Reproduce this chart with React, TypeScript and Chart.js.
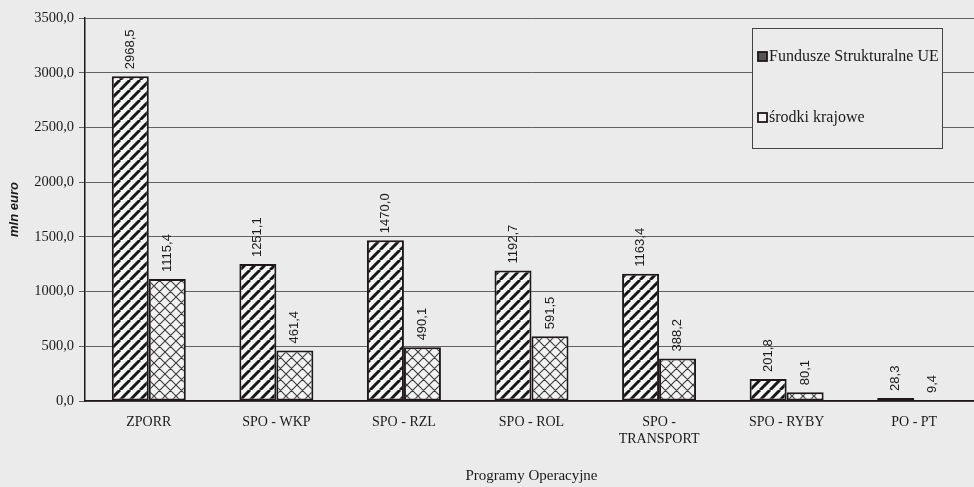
import React, { useEffect, useRef } from "react";
import { Chart, registerables } from "chart.js";

Chart.register(...registerables);

const categories: (string | string[])[] = [
  "ZPORR",
  "SPO - WKP",
  "SPO - RZL",
  "SPO - ROL",
  ["SPO -", "TRANSPORT"],
  "SPO - RYBY",
  "PO - PT",
];
const fundusze = [2968.5, 1251.1, 1470.0, 1192.7, 1163.4, 201.8, 28.3];
const krajowe = [1115.4, 461.4, 490.1, 591.5, 388.2, 80.1, 9.4];
const seriesNames = ["Fundusze Strukturalne UE", "środki krajowe"];
const yTitle = "mln euro";
const xTitle = "Programy Operacyjne";

const BG = "#ebebec";
const INK = "#1e1818";

const fmt = (v: number) => v.toFixed(1).replace(".", ",");

function hatchPattern(): CanvasPattern | string {
  const s = 10;
  const c = document.createElement("canvas");
  c.width = s;
  c.height = s;
  const x = c.getContext("2d");
  if (!x) return "#888";
  x.fillStyle = "#f3f3f3";
  x.fillRect(0, 0, s, s);
  x.strokeStyle = "#161616";
  x.lineWidth = 3;
  x.beginPath();
  for (const k of [-s, 0, s]) {
    x.moveTo(k, s);
    x.lineTo(k + s, 0);
  }
  x.stroke();
  const p = x.createPattern(c, "repeat");
  return p || "#888";
}

function crossPattern(): CanvasPattern | string {
  const s = 11;
  const c = document.createElement("canvas");
  c.width = s;
  c.height = s;
  const x = c.getContext("2d");
  if (!x) return "#ccc";
  x.fillStyle = "#f3f3f3";
  x.fillRect(0, 0, s, s);
  x.strokeStyle = "#3a3a3a";
  x.lineWidth = 1.1;
  x.beginPath();
  for (const k of [-s, 0, s]) {
    x.moveTo(k, s);
    x.lineTo(k + s, 0);
    x.moveTo(k, 0);
    x.lineTo(k + s, s);
  }
  x.stroke();
  const p = x.createPattern(c, "repeat");
  return p || "#ccc";
}

export default function App() {
  const ref = useRef<HTMLCanvasElement | null>(null);

  useEffect(() => {
    if (!ref.current) return;
    const p1 = hatchPattern();
    const p2 = crossPattern();

    const bgPlugin = {
      id: "bg",
      beforeDraw(chart: any) {
        const ctx = chart.ctx;
        ctx.save();
        ctx.fillStyle = BG;
        ctx.fillRect(0, 0, chart.width, chart.height);
        ctx.restore();
      },
    };

    const valuePlugin = {
      id: "values",
      afterDatasetsDraw(chart: any) {
        const ctx = chart.ctx;
        ctx.save();
        ctx.font = '13px "Liberation Sans", Arial, sans-serif';
        ctx.fillStyle = "#1a1a1a";
        ctx.textAlign = "left";
        ctx.textBaseline = "middle";
        chart.data.datasets.forEach((ds: any, i: number) => {
          const meta = chart.getDatasetMeta(i);
          meta.data.forEach((bar: any, j: number) => {
            ctx.save();
            ctx.translate(bar.x, bar.y - 7);
            ctx.rotate(-Math.PI / 2);
            ctx.fillText(fmt(ds.data[j]), 0, 0);
            ctx.restore();
          });
        });
        ctx.restore();
      },
    };

    const legendPlugin = {
      id: "boxLegend",
      afterDraw(chart: any) {
        const ctx = chart.ctx;
        const bx = 752, by = 28, bw = 190, bh = 120;
        ctx.save();
        ctx.fillStyle = BG;
        ctx.fillRect(bx, by, bw, bh);
        ctx.strokeStyle = "#444";
        ctx.lineWidth = 1;
        ctx.strokeRect(bx + 0.5, by + 0.5, bw, bh);
        const rows = [57, 118];
        chart.data.datasets.forEach((ds: any, i: number) => {
          const y = rows[i];
          ctx.fillStyle = i === 0 ? "#555" : "#f3f3f3";
          ctx.fillRect(758, y - 5, 9, 9);
          ctx.strokeStyle = INK;
          ctx.lineWidth = 1.8;
          ctx.strokeRect(758, y - 5, 9, 9);
          ctx.fillStyle = "#1a1a1a";
          ctx.font = '16px "Liberation Serif", "Times New Roman", serif';
          ctx.textAlign = "left";
          ctx.textBaseline = "middle";
          ctx.fillText(ds.label, 769, y);
        });
        ctx.restore();
      },
    };

    const chart = new Chart(ref.current, {
      type: "bar",
      data: {
        labels: categories as any,
        datasets: [
          {
            label: seriesNames[0],
            data: fundusze,
            backgroundColor: p1 as any,
            borderColor: INK,
            borderWidth: 2,
            borderSkipped: false,
            categoryPercentage: 0.58,
            barPercentage: 1.0,
          },
          {
            label: seriesNames[1],
            data: krajowe,
            backgroundColor: p2 as any,
            borderColor: INK,
            borderWidth: 2,
            borderSkipped: false,
            categoryPercentage: 0.58,
            barPercentage: 1.0,
          },
        ],
      },
      options: {
        animation: false,
        responsive: false,
        devicePixelRatio: 1,
        layout: { padding: { left: 0, right: 2, top: 18, bottom: 0 } },
        plugins: {
          legend: { display: false },
          tooltip: { enabled: false },
        },
        scales: {
          x: {
            offset: true,
            afterFit(scale: any) {
              scale.height = 86;
            },
            grid: {
              display: true,
              drawOnChartArea: false,
              drawTicks: false,
              offset: true,
            },
            border: { display: true, color: INK, width: 1.5 },
            ticks: {
              padding: 13,
              color: "#1a1a1a",
              maxRotation: 0,
              autoSkip: false,
              font: { family: '"Liberation Serif", "Times New Roman", serif', size: 14 },
            },
            title: {
              display: true,
              text: xTitle,
              color: "#1a1a1a",
              padding: { top: 4, bottom: 2 },
              font: { family: '"Liberation Serif", "Times New Roman", serif', size: 15 },
            },
          },
          y: {
            min: 0,
            max: 3500,
            afterFit(scale: any) {
              scale.width = 85;
            },
            grid: {
              color: "rgba(40,40,40,0.7)",
              lineWidth: 1,
              tickLength: 6,
              drawTicks: true,
            },
            border: { display: true, color: INK, width: 1.5 },
            ticks: {
              stepSize: 500,
              padding: 5,
              color: "#1a1a1a",
              font: { family: '"Liberation Serif", "Times New Roman", serif', size: 14.5 },
              callback: (v: any) => fmt(Number(v)),
            },
            title: {
              display: true,
              text: yTitle,
              color: "#1a1a1a",
              padding: { top: 7, bottom: 0 },
              font: { family: '"Liberation Sans", Arial, sans-serif', size: 13, style: "italic", weight: "bold" },
            },
          },
        },
      },
      plugins: [bgPlugin, valuePlugin, legendPlugin],
    });

    return () => chart.destroy();
  }, []);

  return (
    <div
      style={{
        position: "absolute",
        left: 0,
        top: 0,
        width: 974,
        height: 487,
        overflow: "hidden",
        background: BG,
      }}
    >
      <canvas ref={ref} width={980} height={487} style={{ width: 980, height: 487, display: "block" }} />
    </div>
  );
}
